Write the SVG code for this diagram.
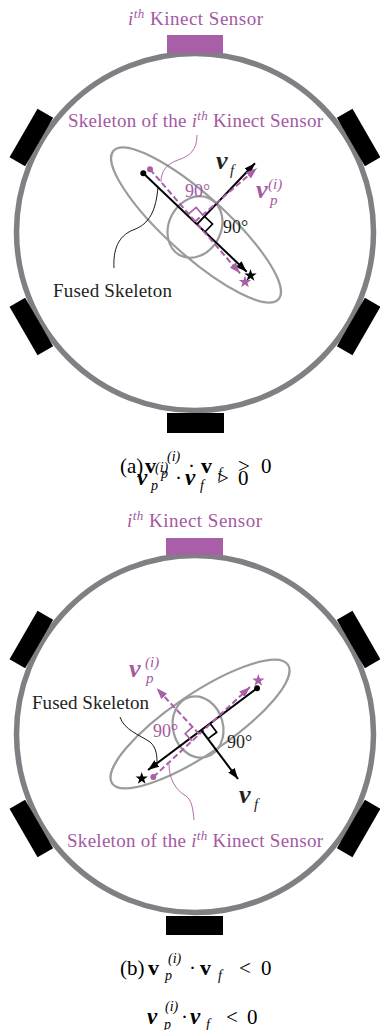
<svg xmlns="http://www.w3.org/2000/svg" width="380" height="1030" viewBox="0 0 380 1030">
<style>
.ring{fill:none;stroke:#807f84;stroke-width:5.5}
.sen{fill:#000}
.ith{fill:#a95ea8}
.ell{fill:none;stroke:#9b9b9b;stroke-width:2.2}
.blk{stroke:#000;stroke-width:2;fill:none}
.pur{stroke:#a95ea8;stroke-width:2;fill:none;stroke-dasharray:6 3}
.sqb{stroke:#000;stroke-width:1.7;fill:none}
.sqp{stroke:#a95ea8;stroke-width:1.7;fill:none}
.lb{stroke:#000;stroke-width:0.9;fill:none}
.lp{stroke:#a95ea8;stroke-width:0.9;fill:none}
.t{font-family:"Liberation Serif","Times New Roman",serif;font-size:19px;fill:#231f20}
.deg{font-family:"Liberation Serif","Times New Roman",serif;font-size:18px;fill:#231f20}
.p{fill:#a459a2}
.it{font-style:italic}
.mb{font-family:"Liberation Serif","Times New Roman",serif;font-weight:bold;font-style:italic;font-size:26px}
.ms{font-family:"Liberation Serif","Times New Roman",serif;font-style:italic;font-size:15px}
.cap{font-family:"Liberation Serif","Times New Roman",serif;font-size:21px;fill:#000}
.bu{font-weight:bold;font-size:22px}
.bi{font-weight:bold;font-style:italic;font-size:23px}
.sm{font-style:italic;font-size:14px}
</style>
<defs>
<rect id="sensor" x="-28" y="-9" width="56" height="18"/>
<path id="star" d="M0,-6.5 L1.53,-2.1 L6.18,-2.01 L2.47,0.8 L3.82,5.26 L0,2.6 L-3.82,5.26 L-2.47,0.8 L-6.18,-2.01 L-1.53,-2.1 Z"/>
<marker id="ab" viewBox="0 0 11 8" refX="11" refY="4" markerWidth="11" markerHeight="8" markerUnits="userSpaceOnUse" orient="auto"><path d="M0,0 L11,4 L0,8 Z" fill="#000"/></marker>
<marker id="ap" viewBox="0 0 11 8" refX="11" refY="4" markerWidth="11" markerHeight="8" markerUnits="userSpaceOnUse" orient="auto"><path d="M0,0 L11,4 L0,8 Z" fill="#a95ea8"/></marker>
</defs>

<!-- Diagram (a) -->
<g id="ring-a">
<circle class="ring" cx="195" cy="232" r="178.5"/>
</g>
<g id="sensors-a">
<rect class="ith" x="167" y="35" width="56" height="18"/>
<rect class="sen" x="167" y="413" width="57" height="20"/>
<use href="#sensor" class="sen" transform="translate(195,232) rotate(-60) translate(0,-189)"/>
<use href="#sensor" class="sen" transform="translate(195,232) rotate(60) translate(0,-189)"/>
<use href="#sensor" class="sen" transform="translate(195,232) rotate(-120) translate(0,-189)"/>
<use href="#sensor" class="sen" transform="translate(195,232) rotate(120) translate(0,-189)"/>
</g>
<g id="body-a">
<ellipse class="ell" cx="196" cy="225" rx="111" ry="30" transform="rotate(42 196 225)"/>
<ellipse class="ell" cx="195" cy="227" rx="32" ry="26" transform="rotate(-62 195 227)"/>
</g>
<g id="connectors-a">
<path class="blk" d="M143.3,173.3 L246.7,271.7" marker-end="url(#ab)"/>
<path class="pur" d="M150,169.3 L240,273.3" marker-end="url(#ap)"/>
<path class="blk" d="M196.9,224.4 L255,163.3" marker-end="url(#ab)"/>
<path class="pur" d="M195.1,221.5 L256.7,168.3" marker-end="url(#ap)"/>
<path class="sqb" d="M204.9,232 L212.5,224 L204.5,216.4"/>
<path class="sqp" d="M188.6,213.9 L196.2,207.4 L202.7,215"/>
<circle cx="143.3" cy="173.3" r="3"/>
<circle cx="150" cy="169.3" r="3" fill="#a95ea8"/>
<use href="#star" x="250.5" y="275.5" fill="#000"/>
<use href="#star" x="245" y="282" fill="#a95ea8"/>
<path class="lp" d="M197,135 C197,150 190,156 178,160 C166,164 161,172 161,182"/>
<path class="lb" d="M114,268 C113,250 118,236 133,230 C150,224 156,210 158,187"/>
</g>
<g id="labels-a">
<text class="t p" x="128" y="25" textLength="135"><tspan class="it">i</tspan><tspan class="it" font-size="13" dy="-7">th</tspan><tspan dy="7"> Kinect Sensor</tspan></text>
<text class="t p" x="68" y="127" textLength="255">Skeleton of the <tspan class="it">i</tspan><tspan class="it" font-size="13" dy="-7">th</tspan><tspan dy="7"> Kinect Sensor</tspan></text>
<text class="t" x="53" y="297" textLength="119">Fused Skeleton</text>
<text class="deg p" x="185" y="197">90°</text>
<text class="deg" x="223" y="233">90°</text>
<text class="mb" x="216" y="169" fill="#231f20">v</text><text class="ms" x="230" y="175" fill="#231f20">f</text>
<text class="mb p" x="256" y="198">v</text><text class="ms p" x="268" y="189">(i)</text><text class="ms p" x="270" y="205">p</text>
</g>
<g id="caption-a">
<text class="cap"><tspan x="120" y="473">(a)</tspan><tspan class="bu" x="145" y="473">v</tspan><tspan class="sm" x="167" y="461">(i)</tspan><tspan class="sm" x="161" y="478">p</tspan><tspan x="188" y="473">·</tspan><tspan class="bu" x="201" y="473">v</tspan><tspan class="sm" x="218" y="478">f</tspan><tspan x="238" y="473">&gt;</tspan><tspan x="261" y="473">0</tspan></text>
<text class="cap"><tspan class="bi" x="137" y="485">v</tspan><tspan class="sm" x="155" y="472">(i)</tspan><tspan class="sm" x="151" y="490">p</tspan><tspan x="175" y="485">·</tspan><tspan class="bi" x="185" y="485">v</tspan><tspan class="sm" x="200" y="490">f</tspan><tspan x="217" y="485">&gt;</tspan><tspan x="238" y="485">0</tspan></text>
</g>

<!-- Diagram (b) -->
<g id="ring-b">
<circle class="ring" cx="195" cy="734" r="178.5"/>
</g>
<g id="sensors-b">
<rect class="ith" x="166" y="538" width="57" height="17"/>
<rect class="sen" x="166" y="916" width="57" height="19"/>
<use href="#sensor" class="sen" transform="translate(195,734) rotate(-60) translate(0,-189)"/>
<use href="#sensor" class="sen" transform="translate(195,734) rotate(60) translate(0,-189)"/>
<use href="#sensor" class="sen" transform="translate(195,734) rotate(-120) translate(0,-189)"/>
<use href="#sensor" class="sen" transform="translate(195,734) rotate(120) translate(0,-189)"/>
</g>
<g id="body-b">
<ellipse class="ell" cx="200" cy="724" rx="106" ry="30" transform="rotate(-34 200 724)"/>
<ellipse class="ell" cx="198" cy="727" rx="31" ry="25" transform="rotate(75 198 727)"/>
</g>
<g id="connectors-b">
<path class="blk" d="M257,688.3 L148,770" marker-end="url(#ab)"/>
<path class="pur" d="M153.3,777 L250,687" marker-end="url(#ap)"/>
<path class="blk" d="M201.3,730.1 L238,779" marker-end="url(#ab)"/>
<path class="pur" d="M199.3,734.2 L156.7,688.3" marker-end="url(#ap)"/>
<path class="sqb" d="M210.1,723.5 L216.7,732.3 L207.9,738.9"/>
<path class="sqp" d="M192,741 L185.2,733.7 L192.5,726.9"/>
<circle cx="257" cy="688.3" r="3"/>
<circle cx="153.3" cy="777" r="3" fill="#a95ea8"/>
<use href="#star" x="141.7" y="778.5" fill="#000"/>
<use href="#star" x="258.3" y="680.5" fill="#a95ea8"/>
<path class="lb" d="M120,717 C124,730 140,735 150,742 C157,748 157,757 157,764"/>
<path class="lp" d="M169,764 C169,778 175,790 186,796 C192,800 193,810 194,820"/>
</g>
<g id="labels-b">
<text class="t p" x="127" y="527" textLength="135"><tspan class="it">i</tspan><tspan class="it" font-size="13" dy="-7">th</tspan><tspan dy="7"> Kinect Sensor</tspan></text>
<text class="t" x="32" y="709" textLength="117">Fused Skeleton</text>
<text class="t p" x="67" y="847" textLength="256">Skeleton of the <tspan class="it">i</tspan><tspan class="it" font-size="13" dy="-7">th</tspan><tspan dy="7"> Kinect Sensor</tspan></text>
<text class="deg p" x="153" y="737">90°</text>
<text class="deg" x="227" y="748">90°</text>
<text class="mb" x="239" y="803" fill="#231f20">v</text><text class="ms" x="254" y="809" fill="#231f20">f</text>
<text class="mb p" x="129" y="677">v</text><text class="ms p" x="145" y="667">(i)</text><text class="ms p" x="146" y="683">p</text>
</g>
<g id="caption-b">
<text class="cap"><tspan x="120" y="975">(b)</tspan><tspan class="bu" x="148" y="975">v</tspan><tspan class="sm" x="168" y="963">(i)</tspan><tspan class="sm" x="165" y="980">p</tspan><tspan x="189" y="975">·</tspan><tspan class="bu" x="200" y="975">v</tspan><tspan class="sm" x="218" y="980">f</tspan><tspan x="239" y="975">&lt;</tspan><tspan x="261" y="975">0</tspan></text>
<text class="cap"><tspan class="bi" x="147" y="1024">v</tspan><tspan class="sm" x="165" y="1011">(i)</tspan><tspan class="sm" x="164" y="1029">p</tspan><tspan x="181" y="1024">·</tspan><tspan class="bi" x="190" y="1024">v</tspan><tspan class="sm" x="206" y="1029">f</tspan><tspan x="226" y="1024">&lt;</tspan><tspan x="247" y="1024">0</tspan></text>
</g>
</svg>
